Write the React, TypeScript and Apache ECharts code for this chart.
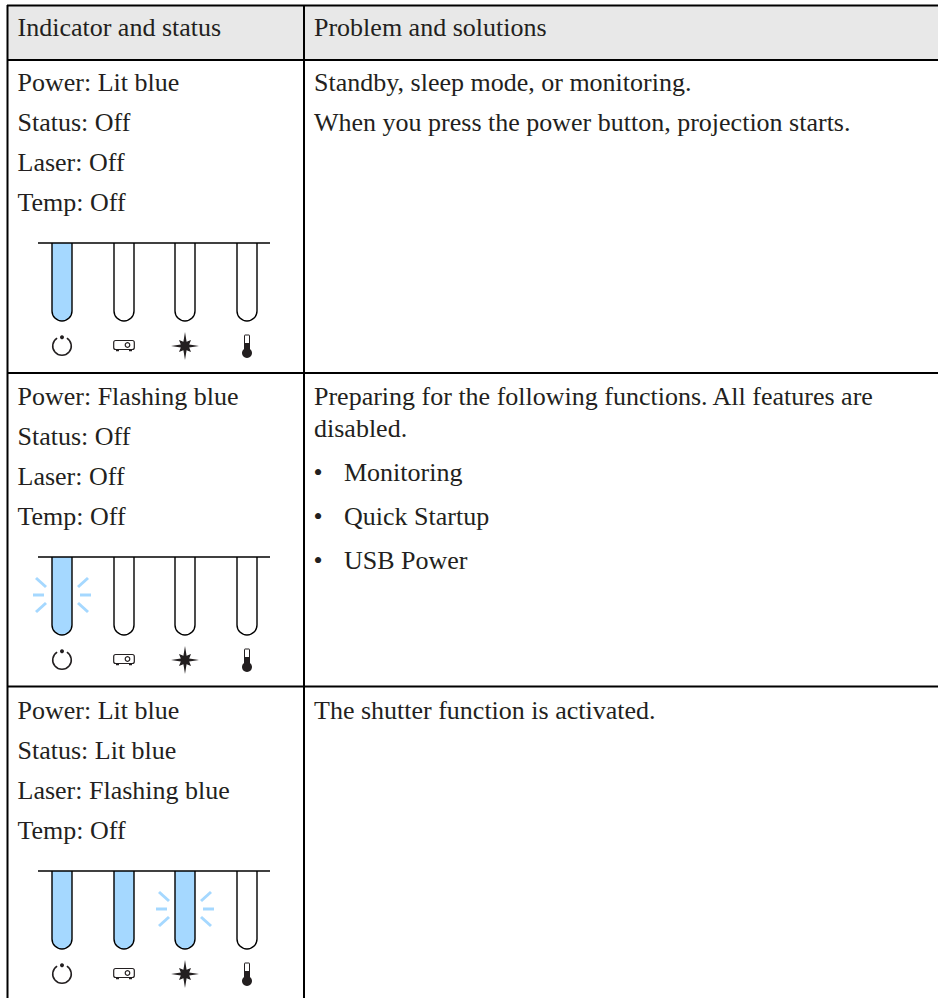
import React, { useEffect, useRef } from "react";
import * as echarts from "echarts";

const headers = ["Indicator and status", "Problem and solutions"];
const leftRows = [
  ["Power: Lit blue", "Status: Off", "Laser: Off", "Temp: Off"],
  ["Power: Flashing blue", "Status: Off", "Laser: Off", "Temp: Off"],
  ["Power: Lit blue", "Status: Lit blue", "Laser: Flashing blue", "Temp: Off"],
];
const rightRows = [
  [
    { t: "Standby, sleep mode, or monitoring.", y: 82.2 },
    { t: "When you press the power button, projection starts.", y: 122.2 },
  ],
  [
    { t: "Preparing for the following functions. All features are", y: 396.2 },
    { t: "disabled.", y: 428.2 },
  ],
  [{ t: "The shutter function is activated.", y: 710.2 }],
];
const bullets = [
  { t: "Monitoring", y: 472.2 },
  { t: "Quick Startup", y: 516.2 },
  { t: "USB Power", y: 560.2 },
];
// 0 = off, 1 = lit, 2 = flashing
const indicatorStates = [
  [1, 0, 0, 0],
  [2, 0, 0, 0],
  [1, 1, 2, 0],
];
const rowLeftTextY = [
  [82.2, 122.2, 162.2, 202.2],
  [396.2, 436.2, 476.2, 516.2],
  [710.2, 750.2, 790.2, 830.2],
];
const panelTop = [243, 557, 871];
const tubeX = [62, 124, 185, 247];

const FONT = "'Liberation Serif', serif";
const SIZE = 26;
const INK = "#231f20";
const BLUE = "#a5d8ff";

echarts.graphic.registerShape(
  "tube",
  echarts.graphic.extendPath("M -10 0 L -10 68 A 10 10 0 0 0 10 68 L 10 0", {})
);
echarts.graphic.registerShape(
  "laserStar",
  echarts.graphic.extendPath(
    "M 0 -14 L 1.6 -4.2 L 6 -6 L 4.2 -1.6 L 14 0 L 4.2 1.6 L 6 6 L 1.6 4.2 L 0 14 L -1.6 4.2 L -6 6 L -4.2 1.6 L -14 0 L -4.2 -1.6 L -6 -6 L -1.6 -4.2 Z",
    {}
  )
);

function txt(x: number, y: number, text: string) {
  return {
    type: "text",
    x,
    y,
    silent: true,
    style: { text, fill: INK, font: `${SIZE}px ${FONT}`, textAlign: "left", textVerticalAlign: "middle" },
  };
}
function ln(x1: number, y1: number, x2: number, y2: number, w: number, c = "#000") {
  return { type: "line", silent: true, shape: { x1, y1, x2, y2 }, style: { stroke: c, lineWidth: w } };
}

function panel(top: number, states: number[]) {
  const els: any[] = [];
  states.forEach((s, i) => {
    const cx = tubeX[i];
    els.push({
      type: "tube",
      x: cx,
      y: top,
      silent: true,
      style: { fill: s ? BLUE : "#fff", stroke: "#000", lineWidth: 1.4 },
    });
    if (s === 2) {
      const cy = top + 38;
      [-1, 1].forEach((d) => {
        els.push(ln(cx + d * 18, cy, cx + d * 29, cy, 3, BLUE));
        els.push(ln(cx + d * 16, cy - 8, cx + d * 26, cy - 17, 3, BLUE));
        els.push(ln(cx + d * 16, cy + 8, cx + d * 26, cy + 17, 3, BLUE));
      });
    }
  });
  els.push(ln(38, top, 270, top, 1.5));
  const iy = top + 103;
  // power
  els.push({
    type: "arc",
    silent: true,
    shape: { cx: tubeX[0], cy: iy, r: 9.3, startAngle: -Math.PI / 2 + 0.55, endAngle: -Math.PI / 2 - 0.55 + Math.PI * 2, clockwise: true },
    style: { stroke: INK, lineWidth: 1.5, fill: "none" },
  });
  els.push({ type: "circle", silent: true, shape: { cx: tubeX[0], cy: iy - 8.7, r: 2 }, style: { fill: INK } });
  // projector
  els.push({ type: "rect", silent: true, shape: { x: tubeX[1] - 10.3, y: iy - 5.5, width: 20.6, height: 9, r: 2 }, style: { fill: "#fff", stroke: INK, lineWidth: 1.2 } });
  els.push({ type: "circle", silent: true, shape: { cx: tubeX[1] + 3.5, cy: iy - 1, r: 2.3 }, style: { fill: "#fff", stroke: INK, lineWidth: 1.2 } });
  els.push(ln(tubeX[1] - 8, iy + 4.5, tubeX[1] - 5, iy + 4.5, 1.5, INK));
  els.push(ln(tubeX[1] + 5, iy + 4.5, tubeX[1] + 8, iy + 4.5, 1.5, INK));
  // laser
  els.push({ type: "laserStar", x: tubeX[2], y: iy, silent: true, style: { fill: INK } });
  // thermometer
  els.push({ type: "rect", silent: true, shape: { x: tubeX[3] - 2.5, y: iy - 11, width: 5, height: 15, r: 0.5 }, style: { fill: "#fff", stroke: INK, lineWidth: 1 } });
  els.push({ type: "rect", silent: true, shape: { x: tubeX[3] - 2.5, y: iy - 3, width: 5, height: 8 }, style: { fill: INK } });
  els.push({ type: "circle", silent: true, shape: { cx: tubeX[3], cy: iy + 7, r: 5 }, style: { fill: INK } });
  return els;
}

export default function App() {
  const ref = useRef<HTMLDivElement>(null);
  useEffect(() => {
    const chart = echarts.init(ref.current!, undefined, { renderer: "svg" });
    const elements: any[] = [];
    elements.push({ type: "rect", silent: true, shape: { x: 7, y: 5, width: 931, height: 55 }, style: { fill: "#e8e8e8" } });
    elements.push(ln(7, 5.5, 938, 5.5, 2));
    elements.push(ln(7, 60, 938, 60, 2));
    elements.push(ln(7, 373, 938, 373, 2));
    elements.push(ln(7, 686.5, 938, 686.5, 2));
    elements.push(ln(7.5, 5, 7.5, 998, 2));
    elements.push(ln(304, 5, 304, 998, 2));
    elements.push(txt(17.5, 27.9, headers[0]), txt(314, 27.9, headers[1]));
    leftRows.forEach((r, i) => r.forEach((t, j) => elements.push(txt(17.5, rowLeftTextY[i][j], t))));
    rightRows.forEach((r) => r.forEach((l) => elements.push(txt(314, l.y, l.t))));
    bullets.forEach((b) => {
      elements.push(txt(313.5, b.y, "•"), txt(344, b.y, b.t));
    });
    indicatorStates.forEach((s, i) => elements.push(...panel(panelTop[i], s)));
    chart.setOption({ animation: false, backgroundColor: "#fff", graphic: { elements } });
    return () => chart.dispose();
  }, []);
  return <div ref={ref} style={{ position: "absolute", left: 0, top: 0, width: 938, height: 998 }} />;
}
